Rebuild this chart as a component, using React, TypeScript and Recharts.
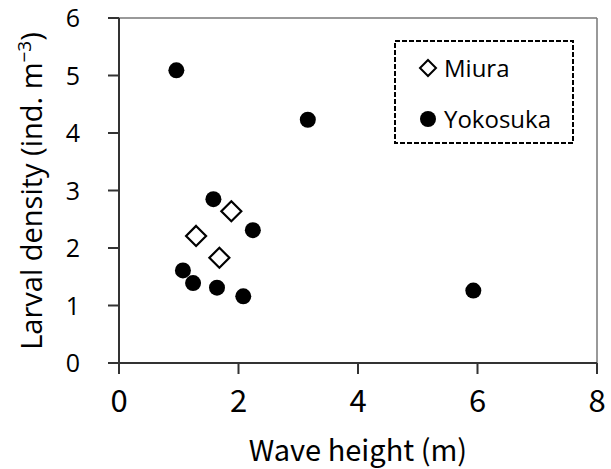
import React from 'react';
import {
  ScatterChart,
  Scatter,
  XAxis,
  YAxis,
  ReferenceLine,
} from 'recharts';

// Wave height (m) vs larval density (ind. m^-3)
const miuraX = [1.88, 1.29, 1.68];
const miuraY = [2.64, 2.21, 1.83];

const yokosukaX = [0.96, 3.16, 1.58, 2.24, 1.07, 1.24, 1.64, 2.08, 5.93];
const yokosukaY = [5.09, 4.23, 2.85, 2.31, 1.61, 1.39, 1.31, 1.16, 1.26];

const xTicks = [0, 2, 4, 6, 8];
const yTicks = [0, 1, 2, 3, 4, 5, 6];

const seriesNames = ['Miura', 'Yokosuka'];

const miura = miuraX.map((x, i) => ({ x, y: miuraY[i] }));
const yokosuka = yokosukaX.map((x, i) => ({ x, y: yokosukaY[i] }));

const AXIS = '#333';
const BOX = '#777';
const SANS = "'Open Sans', 'Noto Sans', sans-serif";
const GOTHIC = "'Noto Sans CJK JP', 'Noto Sans', sans-serif";

const TICK_LEN = 11;
const X_GAP = 15;
const Y_GAP = 28;

// tick mark + label drawn together
const XTick = (props: any) => {
  const { x, y, payload } = props;
  const top = y - X_GAP - TICK_LEN;
  return (
    <g>
      <path d={`M${x},${top}V${top + TICK_LEN}`} stroke={AXIS} strokeWidth={2} fill="none" />
      <text x={x} y={y} dy="0.74em" textAnchor="middle" fontFamily={GOTHIC} fontSize={31} fill="#000">
        {payload.value}
      </text>
    </g>
  );
};

const YTick = (props: any) => {
  const { x, y, payload } = props;
  const right = x + Y_GAP + TICK_LEN;
  return (
    <g>
      <path d={`M${right - TICK_LEN},${y}H${right}`} stroke={AXIS} strokeWidth={2} fill="none" />
      <text x={x} y={y} dy="0.36em" textAnchor="end" fontFamily={SANS} fontSize={25} fill="#000">
        {payload.value}
      </text>
    </g>
  );
};

const Diamond = (props: any) => {
  const { cx, cy } = props;
  const r = 10;
  return (
    <polygon
      points={`${cx},${cy - r} ${cx + r},${cy} ${cx},${cy + r} ${cx - r},${cy}`}
      fill="#fff"
      stroke="#000"
      strokeWidth={2.2}
    />
  );
};

const Dot = (props: any) => <circle cx={props.cx} cy={props.cy} r={8} fill="#000" />;

const YLabel = () => (
  <text
    x={42}
    y={191}
    transform="rotate(-90 42 191)"
    textAnchor="middle"
    fontFamily={SANS}
    fontSize={29}
    fill="#000"
  >
    Larval density (ind. m
    <tspan dy={-11} fontSize={19}>−3</tspan>
    <tspan dy={11}>)</tspan>
  </text>
);

// legend drawn as a plain svg box over the plot (Recharts' Legend would reserve space)
const LegendBox = () => (
  <svg width={184} height={108} style={{ position: 'absolute', left: 392, top: 38 }}>
    <rect x={3} y={3} width={178} height={102} fill="#fff" stroke="#000" strokeWidth={2} strokeDasharray="5 2" />
    {seriesNames.map((name, i) => {
      const cy = 30 + i * 51;
      return (
        <g key={name}>
          {i === 0 ? (
            <polygon
              points={`36,${cy - 8} 44,${cy} 36,${cy + 8} 28,${cy}`}
              fill="#fff"
              stroke="#000"
              strokeWidth={2}
            />
          ) : (
            <circle cx={36} cy={cy} r={8} fill="#000" />
          )}
          <text x={52} y={cy + 8.5} fontFamily={SANS} fontSize={24} fill="#000">
            {name}
          </text>
        </g>
      );
    })}
  </svg>
);

export default function App() {
  return (
    <div style={{ position: 'absolute', left: 0, top: 0, width: 611, height: 469, background: '#fff' }}>
      <ScatterChart width={611} height={469} margin={{ top: 18, right: 14, left: 0, bottom: 0 }}>
        <XAxis
          type="number"
          dataKey="x"
          domain={[0, 8]}
          ticks={xTicks}
          height={106}
          tickSize={TICK_LEN}
          tickMargin={X_GAP}
          tickLine={false}
          axisLine={{ stroke: AXIS, strokeWidth: 2 }}
          tick={<XTick />}
          label={{
            value: 'Wave height (m)',
            position: 'insideBottom',
            offset: 8,
            fill: '#000',
            fontSize: 29,
            fontFamily: GOTHIC,
          }}
        />
        <YAxis
          type="number"
          dataKey="y"
          domain={[0, 6]}
          ticks={yTicks}
          width={119}
          tickSize={TICK_LEN}
          tickMargin={Y_GAP}
          tickLine={false}
          axisLine={{ stroke: AXIS, strokeWidth: 2 }}
          tick={<YTick />}
          label={<YLabel />}
        />
        <ReferenceLine y={6} stroke={BOX} strokeWidth={1.5} />
        <ReferenceLine x={8} stroke={BOX} strokeWidth={1.5} />
        <Scatter name="Miura" data={miura} shape={<Diamond />} isAnimationActive={false} />
        <Scatter name="Yokosuka" data={yokosuka} shape={<Dot />} isAnimationActive={false} />
      </ScatterChart>
      <LegendBox />
    </div>
  );
}
